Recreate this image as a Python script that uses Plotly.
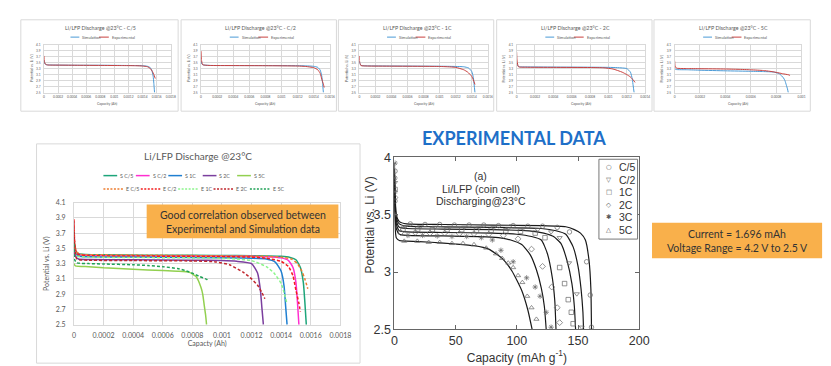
import plotly.graph_objects as go

W, H = 831, 366

RATES = ["C/5", "C/2", "1C", "2C", "5C"]

# ---------------- Simulation curves (capacity in Ah, potential in V)
SIM_CAP_C5 = [0, 0.00001, 0.00003, 0.00008, 0.0002, 0.0005, 0.0008, 0.0011, 0.0013, 0.0014, 0.00146, 0.0015, 0.00153, 0.00155, 0.00156, 0.00157]
SIM_V_C5 = [3.58, 3.47, 3.43, 3.42, 3.415, 3.41, 3.41, 3.405, 3.40, 3.395, 3.38, 3.35, 3.25, 3.05, 2.8, 2.5]
SIM_CAP_C2 = [0, 0.00001, 0.00003, 0.0001, 0.0004, 0.0008, 0.0012, 0.0013, 0.0014, 0.00145, 0.00148, 0.0015, 0.00151, 0.00152]
SIM_V_C2 = [3.55, 3.45, 3.42, 3.405, 3.40, 3.40, 3.395, 3.39, 3.375, 3.34, 3.25, 3.05, 2.8, 2.5]
SIM_CAP_1C = [0, 0.00001, 0.00003, 0.0001, 0.0004, 0.0008, 0.0011, 0.0012, 0.0013, 0.00136, 0.0014, 0.00142, 0.00143, 0.00144]
SIM_V_1C = [3.55, 3.44, 3.40, 3.39, 3.385, 3.38, 3.375, 3.37, 3.36, 3.32, 3.2, 3.0, 2.75, 2.5]
SIM_CAP_2C = [0, 0.00001, 0.00003, 0.0001, 0.0004, 0.0008, 0.001, 0.0011, 0.0012, 0.00124, 0.00126, 0.00127, 0.00128]
SIM_V_2C = [3.5, 3.4, 3.36, 3.355, 3.35, 3.345, 3.34, 3.33, 3.3, 3.18, 2.95, 2.72, 2.5]
SIM_CAP_5C = [0, 0.00001, 0.0001, 0.0002, 0.0004, 0.0006, 0.0007, 0.00078, 0.000825, 0.000858, 0.00087, 0.00088, 0.00089, 0.000896]
SIM_V_5C = [3.3, 3.27, 3.26, 3.245, 3.225, 3.21, 3.2, 3.185, 3.13, 2.99, 2.9, 2.76, 2.62, 2.5]

# ---------------- Experimental curves (capacity in Ah, potential in V)
EXP_CAP_C5 = [0, 0.000005, 0.00002, 0.00005, 0.0002, 0.0005, 0.0008, 0.0011, 0.0013, 0.0014, 0.00147, 0.00151, 0.00154, 0.00156, 0.00158]
EXP_V_C5 = [3.72, 3.55, 3.45, 3.42, 3.415, 3.41, 3.405, 3.40, 3.395, 3.385, 3.36, 3.3, 3.2, 3.1, 2.97]
EXP_CAP_C2 = [0, 0.000005, 0.00002, 0.0001, 0.0004, 0.0008, 0.0012, 0.0013, 0.0014, 0.00145, 0.00148, 0.0015, 0.00152, 0.00153]
EXP_V_C2 = [3.88, 3.6, 3.43, 3.405, 3.40, 3.395, 3.385, 3.37, 3.33, 3.26, 3.14, 2.95, 2.78, 2.67]
EXP_CAP_1C = [0, 0.000005, 0.00002, 0.0001, 0.0004, 0.0008, 0.001, 0.0011, 0.0012, 0.0013, 0.00135, 0.0014, 0.00142, 0.00144]
EXP_V_1C = [3.72, 3.5, 3.40, 3.385, 3.38, 3.375, 3.37, 3.36, 3.34, 3.26, 3.18, 3.04, 2.92, 2.77]
EXP_CAP_2C = [0, 0.000005, 0.00002, 0.0001, 0.0004, 0.0008, 0.00095, 0.00105, 0.00115, 0.0012, 0.00124, 0.00127, 0.00129]
EXP_V_2C = [3.85, 3.55, 3.36, 3.345, 3.34, 3.335, 3.325, 3.285, 3.18, 3.1, 3.02, 2.92, 2.84]
EXP_CAP_5C = [0, 0.000005, 0.00002, 0.0001, 0.0002, 0.0004, 0.0005, 0.0006, 0.0007, 0.00075, 0.0008, 0.00085, 0.0009, 0.00091]
EXP_V_5C = [3.56, 3.35, 3.31, 3.30, 3.295, 3.285, 3.275, 3.26, 3.235, 3.21, 3.175, 3.13, 3.09, 3.07]

SIM_CAP = [SIM_CAP_C5, SIM_CAP_C2, SIM_CAP_1C, SIM_CAP_2C, SIM_CAP_5C]
SIM_V = [SIM_V_C5, SIM_V_C2, SIM_V_1C, SIM_V_2C, SIM_V_5C]
EXP_CAP = [EXP_CAP_C5, EXP_CAP_C2, EXP_CAP_1C, EXP_CAP_2C, EXP_CAP_5C]
EXP_V = [EXP_V_C5, EXP_V_C2, EXP_V_1C, EXP_V_2C, EXP_V_5C]

TOP_XMAX = [0.0018, 0.0016, 0.0016, 0.0014, 0.001]
S_NAMES = ["S C/5", "S C/2", "S 1C", "S 2C", "S 5C"]
E_NAMES = ["E C/5", "E C/2", "E 1C", "E 2C", "E 5C"]

# ---------------- Published experimental data (mAh/g)
LIT_RATES = ["C/5", "C/2", "1C", "2C", "3C", "5C"]
LIT_LINE_CAP_C5 = [0, 0.5, 1.5, 4, 10, 40, 80, 120, 140, 147, 152, 156, 159, 160.5, 161]
LIT_LINE_V_C5 = [3.95, 3.7, 3.5, 3.44, 3.42, 3.415, 3.41, 3.405, 3.395, 3.37, 3.34, 3.28, 3.1, 2.85, 2.5]
LIT_LINE_CAP_C2 = [0, 0.5, 1.5, 4, 10, 40, 80, 120, 132, 140, 146, 150, 152.5, 154, 154.5]
LIT_LINE_V_C2 = [3.9, 3.65, 3.48, 3.42, 3.40, 3.395, 3.39, 3.38, 3.36, 3.33, 3.22, 3.05, 2.85, 2.65, 2.5]
LIT_LINE_CAP_1C = [0, 0.5, 1.5, 4, 10, 40, 80, 110, 122, 130, 136, 141, 145, 147, 148]
LIT_LINE_V_1C = [3.85, 3.6, 3.45, 3.39, 3.38, 3.375, 3.37, 3.36, 3.34, 3.31, 3.25, 3.1, 2.9, 2.7, 2.5]
LIT_LINE_CAP_2C = [0, 0.5, 1.5, 4, 10, 40, 80, 100, 112, 120, 125, 129, 131, 132]
LIT_LINE_V_2C = [3.8, 3.55, 3.42, 3.36, 3.35, 3.345, 3.34, 3.33, 3.31, 3.28, 3.16, 2.95, 2.75, 2.5]
LIT_LINE_CAP_3C = [0, 0.5, 1.5, 4, 10, 40, 70, 85, 95, 104, 111, 116, 120, 122.5, 124]
LIT_LINE_V_3C = [3.75, 3.5, 3.38, 3.33, 3.32, 3.315, 3.31, 3.3, 3.28, 3.24, 3.15, 3.02, 2.86, 2.7, 2.5]
LIT_LINE_CAP_5C = [0, 0.5, 1.5, 4, 10, 30, 50, 65, 77, 88, 96, 104, 109, 112.5]
LIT_LINE_V_5C = [3.7, 3.4, 3.3, 3.275, 3.27, 3.26, 3.245, 3.23, 3.2, 3.12, 3.01, 2.84, 2.67, 2.5]

LIT_MK_CAP_C5 = [0.5, 0.5, 13, 25, 37, 49, 61, 73, 85, 97, 109, 121, 133, 143, 157, 160, 161]
LIT_MK_V_C5 = [3.88, 3.62, 3.42, 3.415, 3.415, 3.41, 3.41, 3.41, 3.405, 3.405, 3.40, 3.40, 3.39, 3.35, 3.09, 2.8, 2.52]
LIT_MK_CAP_C2 = [0.5, 9, 21, 33, 45, 57, 69, 81, 93, 105, 117, 128, 135, 142.7, 149, 153]
LIT_MK_V_C2 = [3.78, 3.395, 3.395, 3.39, 3.39, 3.39, 3.385, 3.385, 3.38, 3.38, 3.37, 3.35, 3.30, 3.08, 2.81, 2.52]
LIT_MK_CAP_1C = [0.5, 7, 19, 31, 43, 55, 67, 79, 91, 103, 115, 123, 135, 139, 142, 144.5, 146]
LIT_MK_V_1C = [3.72, 3.375, 3.375, 3.37, 3.37, 3.37, 3.365, 3.365, 3.36, 3.355, 3.34, 3.30, 3.04, 2.9, 2.76, 2.65, 2.55]
LIT_MK_CAP_2C = [0.5, 5, 17, 29, 41, 53, 65, 77, 89, 101, 112, 121, 128.5, 133, 135]
LIT_MK_V_2C = [3.65, 3.345, 3.345, 3.34, 3.34, 3.335, 3.335, 3.33, 3.32, 3.29, 3.2, 3.05, 2.87, 2.69, 2.56]
LIT_MK_CAP_3C = [0.5, 0.5, 0.5, 11, 23, 35, 47, 59, 71, 80, 87, 97, 108, 115, 119, 124, 128]
LIT_MK_V_3C = [3.95, 3.82, 3.7, 3.32, 3.32, 3.315, 3.31, 3.31, 3.30, 3.28, 3.19, 3.09, 2.95, 2.87, 2.79, 2.65, 2.52]
LIT_MK_CAP_5C = [0.5, 8, 18.7, 28, 37, 47, 56, 65, 75, 83, 88, 93, 97, 101, 104.5, 108.5, 112, 116]
LIT_MK_V_5C = [3.5, 3.27, 3.27, 3.26, 3.26, 3.25, 3.25, 3.24, 3.21, 3.16, 3.12, 3.08, 3.04, 2.97, 2.91, 2.79, 2.69, 2.59]

LIT_LINE_CAP = [LIT_LINE_CAP_C5, LIT_LINE_CAP_C2, LIT_LINE_CAP_1C, LIT_LINE_CAP_2C, LIT_LINE_CAP_3C, LIT_LINE_CAP_5C]
LIT_LINE_V = [LIT_LINE_V_C5, LIT_LINE_V_C2, LIT_LINE_V_1C, LIT_LINE_V_2C, LIT_LINE_V_3C, LIT_LINE_V_5C]
LIT_MK_CAP = [LIT_MK_CAP_C5, LIT_MK_CAP_C2, LIT_MK_CAP_1C, LIT_MK_CAP_2C, LIT_MK_CAP_3C, LIT_MK_CAP_5C]
LIT_MK_V = [LIT_MK_V_C5, LIT_MK_V_C2, LIT_MK_V_1C, LIT_MK_V_2C, LIT_MK_V_3C, LIT_MK_V_5C]
LIT_SYMBOLS = ["circle-open", "triangle-down-open", "square-open", "diamond-open", "asterisk-open", "triangle-up-open"]
LIT_GLYPHS = ["○", "▽", "□", "◇", "✱", "△"]

# ---------------- styles
TOP_SIM_COLOR = "#4A9AD6"
TOP_EXP_COLOR = "#C9413F"
S_COLORS = ["#1DA57A", "#FF2FD0", "#1F7FD1", "#7B3F9E", "#92D050"]
E_COLORS = ["#ED7D31", "#F21D1D", "#8CF58C", "#C0262D", "#1EA155"]
GRID = "#D9D9D9"
TXT = "#595959"
CAL = "Lato, 'Open Sans', sans-serif"
ARIAL = "'Liberation Sans', Arial, sans-serif"
DASH = "3px,2px"


def fx(px):
    return px / W


def fy(py):
    return 1 - py / H


fig = go.Figure()
shapes = []
annotations = []


def text(x, y, s, size, color=TXT, family=CAL, xanchor="center", yanchor="middle", angle=0, bold=False):
    annotations.append(dict(x=fx(x), y=fy(y), xref="paper", yref="paper", text=("<b>%s</b>" % s) if bold else s,
                            showarrow=False, xanchor=xanchor, yanchor=yanchor, textangle=angle,
                            font=dict(size=size, color=color, family=family)))


def hline(x0, x1, y, color, width, dash="solid"):
    shapes.append(dict(type="line", xref="paper", yref="paper", x0=fx(x0), x1=fx(x1), y0=fy(y), y1=fy(y),
                       line=dict(color=color, width=width, dash=dash)))


def rect(x0, x1, y0, y1, fill, line=None, layer="below"):
    shapes.append(dict(type="rect", xref="paper", yref="paper", x0=fx(x0), x1=fx(x1), y0=fy(y1), y1=fy(y0),
                       fillcolor=fill, line=dict(color=line or fill, width=1 if line else 0), layer=layer))


layout_axes = {}

# ---------------- top small panels
CARDS = [(10, 170), (173, 331), (333, 491), (494, 652), (654, 813)]
PLOTS = [(33.5, 162.5), (193.3, 324.3), (354.3, 485), (514.3, 645), (675, 804)]
for i, rate in enumerate(RATES):
    n = i + 1
    xa = "x" if n == 1 else "x%d" % n
    ya = "y" if n == 1 else "y%d" % n
    fig.add_trace(go.Scatter(x=SIM_CAP[i], y=SIM_V[i], mode="lines", name="Simulation", showlegend=False,
                             line=dict(color=TOP_SIM_COLOR, width=1, shape="spline", smoothing=0.5), xaxis=xa, yaxis=ya))
    fig.add_trace(go.Scatter(x=EXP_CAP[i], y=EXP_V[i], mode="lines", name="Experimental", showlegend=False,
                             line=dict(color=TOP_EXP_COLOR, width=1, shape="spline", smoothing=0.5), xaxis=xa, yaxis=ya))
    c0, c1 = CARDS[i]
    p0, p1 = PLOTS[i]
    rect(c0, c1, 5, 100, "white", GRID)
    layout_axes["xaxis" if n == 1 else "xaxis%d" % n] = dict(
        domain=[fx(p0), fx(p1)], anchor=ya, range=[0, TOP_XMAX[i]], tick0=0, dtick=0.0002, tickformat="~g",
        showgrid=True, gridcolor=GRID, gridwidth=0.6, zeroline=False, showline=True, mirror=True,
        linecolor=GRID, linewidth=0.6, ticks="", tickfont=dict(size=3.2, color=TXT, family=CAL),
        ticklabelstandoff=1)
    layout_axes["yaxis" if n == 1 else "yaxis%d" % n] = dict(
        domain=[fy(80.7), fy(30.7)], anchor=xa, range=[2.5, 4.1], tick0=2.5, dtick=0.2,
        showgrid=True, gridcolor=GRID, gridwidth=0.6, zeroline=False, showline=True, mirror=True,
        linecolor=GRID, linewidth=0.6, ticks="", tickfont=dict(size=3.2, color=TXT, family=CAL),
        ticklabelstandoff=2)
    text((p0 + p1) / 2, 92, "Capacity (Ah)", 3.5)
    text(p0 - 13, 55.7, "Potential vs. Li (V)", 3.5, angle=-90)
    cc = (c0 + c1) / 2 + 1.5
    text(cc, 13, "Li/LFP Discharge @23°C - %s" % rate, 5.3)
    hline(cc - 31, cc - 22, 23, TOP_SIM_COLOR, 1)
    text(cc - 21, 23, "Simulation", 4.0, xanchor="left")
    hline(cc - 2, cc + 8, 23, TOP_EXP_COLOR, 1)
    text(cc + 9, 23, "Experimental", 4.0, xanchor="left")

# ---------------- bottom-left combined chart
rect(26, 355, 134, 362, "white", GRID)
for i in range(5):
    fig.add_trace(go.Scatter(x=SIM_CAP[i], y=SIM_V[i], mode="lines", name=S_NAMES[i], showlegend=False,
                             line=dict(color=S_COLORS[i], width=1.5, shape="spline", smoothing=0.5),
                             xaxis="x6", yaxis="y6"))
for i in range(5):
    fig.add_trace(go.Scatter(x=EXP_CAP[i], y=EXP_V[i], mode="lines", name=E_NAMES[i], showlegend=False,
                             line=dict(color=E_COLORS[i], width=1.5, dash=DASH, shape="spline", smoothing=0.5),
                             xaxis="x6", yaxis="y6"))
layout_axes["xaxis6"] = dict(
    domain=[fx(64), fx(335)], anchor="y6", range=[0, 0.0018], tick0=0, dtick=0.0002, tickformat="~g",
    showgrid=True, gridcolor=GRID, gridwidth=0.8, zeroline=False, showline=True, mirror=True,
    linecolor=GRID, linewidth=0.8, ticks="", tickfont=dict(size=7, color=TXT, family=CAL), ticklabelstandoff=4,
    title=dict(text="Capacty (Ah)", font=dict(size=7, color=TXT, family=CAL), standoff=3))
layout_axes["yaxis6"] = dict(
    domain=[fy(322), fy(195)], anchor="x6", range=[2.5, 4.1], tick0=2.5, dtick=0.2,
    showgrid=True, gridcolor=GRID, gridwidth=0.8, zeroline=False, showline=True, mirror=True,
    linecolor=GRID, linewidth=0.8, ticks="", tickfont=dict(size=7, color=TXT, family=CAL), ticklabelstandoff=6,
    title=dict(text="Potential vs. Li (V)", font=dict(size=7, color=TXT, family=CAL), standoff=5))
text(190, 147, "Li/LFP Discharge @23°C", 10)
ROW1_X = [94, 127, 160, 195, 230]
ROW2_X = [94, 132, 170, 206, 243]
for i in range(5):
    hline(ROW1_X[i], ROW1_X[i] + 14, 167, S_COLORS[i], 1.5)
    text(ROW1_X[i] + 15, 167, S_NAMES[i], 5.3, xanchor="left")
    hline(ROW2_X[i], ROW2_X[i] + 20, 181, E_COLORS[i], 1.5, "2px,1.5px")
    text(ROW2_X[i] + 21, 181, E_NAMES[i], 5.3, xanchor="left")
rect(138, 333, 197, 232, "#F9B04B", layer="above")
text(235.5, 207.5, "Good correlation observed between", 10.5, color="#333333")
text(235.5, 222, "Experimental and Simulation data", 10.5, color="#333333")

# ---------------- published experimental data chart
for i, r in enumerate(LIT_RATES):
    fig.add_trace(go.Scatter(x=LIT_LINE_CAP[i], y=LIT_LINE_V[i], mode="lines", name=r + " model", showlegend=False,
                             line=dict(color="#1A1A1A", width=1.2, shape="spline", smoothing=0.5),
                             xaxis="x7", yaxis="y7"))
for i, r in enumerate(LIT_RATES):
    fig.add_trace(go.Scatter(x=LIT_MK_CAP[i], y=LIT_MK_V[i], mode="markers", name=r, showlegend=False,
                             marker=dict(symbol=LIT_SYMBOLS[i], size=4.5, color="#666666",
                                         line=dict(color="#666666", width=0.7)),
                             xaxis="x7", yaxis="y7"))
layout_axes["xaxis7"] = dict(
    domain=[fx(390), fx(639)], anchor="y7", range=[0, 200], tick0=0, dtick=50, showgrid=False, zeroline=False,
    showline=True, mirror="ticks", linecolor="#666666", linewidth=1, ticks="inside", ticklen=4, tickcolor="#666666",
    tickfont=dict(size=12.5, color="#333333", family=ARIAL), ticklabelstandoff=0,
    title=dict(text="Capacity (mAh g<sup>-1</sup>)", font=dict(size=12, color="#333333", family=ARIAL), standoff=4))
layout_axes["yaxis7"] = dict(
    domain=[fy(327), fy(148)], anchor="x7", range=[2.5, 4], tick0=2.5, dtick=0.5, showgrid=False, zeroline=False,
    showline=True, mirror="ticks", linecolor="#666666", linewidth=1, ticks="inside", ticklen=4, tickcolor="#666666",
    tickfont=dict(size=12.5, color="#333333", family=ARIAL), ticklabelstandoff=0)
text(365, 218, "Potential vs. Li (V)", 12, color="#333333", family=ARIAL, angle=-90)
text(512, 128, "EXPERIMENTAL DATA", 18, color="#1E6FC8", bold=True)
text(478, 167, "(a)", 10.5, color="#333333", family=ARIAL)
text(478, 180.5, "Li/LFP (coin cell)", 10.5, color="#333333", family=ARIAL)
text(478, 193.5, "Discharging@23°C", 10.5, color="#333333", family=ARIAL)
rect(598, 637.3, 150, 233, "white", "#777777", layer="above")
LEG_Y = [158.5, 171.5, 184.5, 197.5, 210.5, 224]
for i, r in enumerate(LIT_RATES):
    text(608, LEG_Y[i], LIT_GLYPHS[i], 6.5, color="#555555", family="DejaVu Sans")
    text(616, LEG_Y[i], r, 10.5, color="#333333", family=ARIAL, xanchor="left")

# ---------------- info box
rect(652, 825, 216, 253, "#F9B04B", layer="above")
text(738.5, 227.5, "Current = 1.696 mAh", 10.5, color="#333333")
text(738.5, 242, "Voltage Range = 4.2 V to 2.5 V", 10.5, color="#333333")

fig.update_layout(width=W, height=H, margin=dict(l=0, r=0, t=0, b=0, pad=0), paper_bgcolor="white",
                  plot_bgcolor="rgba(0,0,0,0)", showlegend=False, shapes=shapes, annotations=annotations,
                  **layout_axes)
fig.write_html("out.html")
